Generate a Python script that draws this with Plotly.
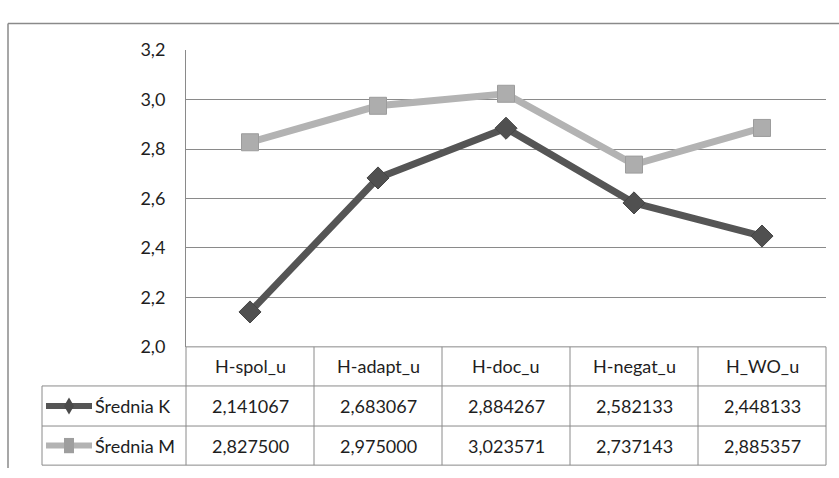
import plotly.graph_objects as go

categories = ["H-spol_u", "H-adapt_u", "H-doc_u", "H-negat_u", "H_WO_u"]
series_names = ["Średnia K", "Średnia M"]
values_k = [2.141067, 2.683067, 2.884267, 2.582133, 2.448133]
values_m = [2.827500, 2.975000, 3.023571, 2.737143, 2.885357]
y_ticks = [2.0, 2.2, 2.4, 2.6, 2.8, 3.0, 3.2]

W, H = 839, 478
FONT = "Lato"
FS = 18
TXT = "#1e1e1e"
GRID = "#8a8a8a"
COL_K = "#555555"
COL_M = "#b3b3b3"

def px(x):
    return x / W

def py(y):
    return 1 - y / H

plot_l, plot_r, plot_t, plot_b = 186, 826, 40, 351
row_lines = [351, 392, 434, 475]
table_l = 42

fig = go.Figure()
fig.add_trace(go.Scatter(
    x=categories, y=values_m, mode="lines+markers", name=series_names[1],
    line=dict(color=COL_M, width=7),
    marker=dict(symbol="square", size=17, color="#adadad", line=dict(color="#9c9c9c", width=1)),
))
fig.add_trace(go.Scatter(
    x=categories, y=values_k, mode="lines+markers", name=series_names[0],
    line=dict(color=COL_K, width=7),
    marker=dict(symbol="diamond", size=17, color="#505050", line=dict(color="#454545", width=1)),
))

shapes = []
ln = dict(color=GRID, width=1)
# outer chart border (top & left)
shapes.append(dict(type="line", xref="paper", yref="paper", x0=px(8), x1=1, y0=py(12), y1=py(12), line=dict(color="#8a8a8a", width=1.5)))
shapes.append(dict(type="line", xref="paper", yref="paper", x0=px(8), x1=px(8), y0=py(12), y1=0, line=dict(color="#8a8a8a", width=1.5)))
# table horizontal lines
shapes.append(dict(type="line", xref="paper", yref="paper", x0=px(plot_l), x1=px(plot_r), y0=py(row_lines[0]), y1=py(row_lines[0]), line=ln))
for yy in row_lines[1:]:
    shapes.append(dict(type="line", xref="paper", yref="paper", x0=px(table_l), x1=px(plot_r), y0=py(yy), y1=py(yy), line=ln))
# table vertical lines
shapes.append(dict(type="line", xref="paper", yref="paper", x0=px(table_l), x1=px(table_l), y0=py(row_lines[1]), y1=py(row_lines[3]), line=ln))
ncat = len(categories)
for i in range(ncat + 1):
    xx = plot_l + (plot_r - plot_l) * i / ncat
    shapes.append(dict(type="line", xref="paper", yref="paper", x0=px(xx), x1=px(xx), y0=py(row_lines[0]), y1=py(row_lines[3]), line=ln))

annotations = []
row_centers = [(row_lines[i] + row_lines[i + 1]) / 2 for i in range(3)]
for c in categories:
    annotations.append(dict(x=c, xref="x", y=py(row_centers[0]), yref="paper", text=c, showarrow=False,
                            xanchor="center", yanchor="middle",
                            font=dict(family=FONT, size=FS, color=TXT)))
for vals, rc in ((values_k, row_centers[1]), (values_m, row_centers[2])):
    for c, v in zip(categories, vals):
        annotations.append(dict(x=c, xref="x", y=py(rc), yref="paper",
                                text=f"{v:.6f}".replace(".", ","), showarrow=False,
                                xanchor="center", yanchor="middle",
                                font=dict(family=FONT, size=FS, color=TXT)))

# legend keys within the table
for name, rc, col, sym in ((series_names[0], row_centers[1], COL_K, "diamond"), (series_names[1], row_centers[2], COL_M, "square")):
    shapes.append(dict(type="line", xref="paper", yref="paper", x0=px(46), x1=px(92), y0=py(rc), y1=py(rc),
                       line=dict(color=col, width=6)))
    cx, cy = 69, rc
    if sym == "diamond":
        path = f"M {px(cx)},{py(cy-9)} L {px(cx+5)},{py(cy)} L {px(cx)},{py(cy+9)} L {px(cx-5)},{py(cy)} Z"
        shapes.append(dict(type="path", xref="paper", yref="paper", path=path, fillcolor="#4a4a4a", line=dict(width=0)))
    else:
        shapes.append(dict(type="rect", xref="paper", yref="paper", x0=px(cx-5), x1=px(cx+5), y0=py(cy+8), y1=py(cy-8),
                           fillcolor="#9e9e9e", line=dict(width=0)))
    annotations.append(dict(x=px(93), xref="paper", y=py(rc), yref="paper", text=name, showarrow=False,
                            xanchor="left", yanchor="middle", font=dict(family=FONT, size=FS, color=TXT)))

fig.update_layout(
    width=W, height=H,
    margin=dict(l=0, r=0, t=0, b=0),
    paper_bgcolor="white", plot_bgcolor="white",
    showlegend=False,
    separators=", ",
    hovermode=False,
    xaxis=dict(domain=[px(plot_l), px(plot_r)], range=[-0.5, 4.5], showticklabels=False,
               showgrid=False, zeroline=False, showline=False, fixedrange=True),
    yaxis=dict(domain=[py(plot_b), py(plot_t)], range=[2.0, 3.2], tickvals=y_ticks,
               tickformat=".1f", showgrid=True, gridcolor=GRID, gridwidth=1, zeroline=False,
               showline=True, linecolor=GRID, linewidth=1, ticks="", ticklabelstandoff=16,
               tickfont=dict(family=FONT, size=FS, color=TXT), fixedrange=True),
    shapes=shapes,
    annotations=annotations,
)
fig.write_html("out.html", config={"displayModeBar": False, "staticPlot": True},
               post_script="document.body.style.margin='0';document.body.style.overflow='hidden';")
